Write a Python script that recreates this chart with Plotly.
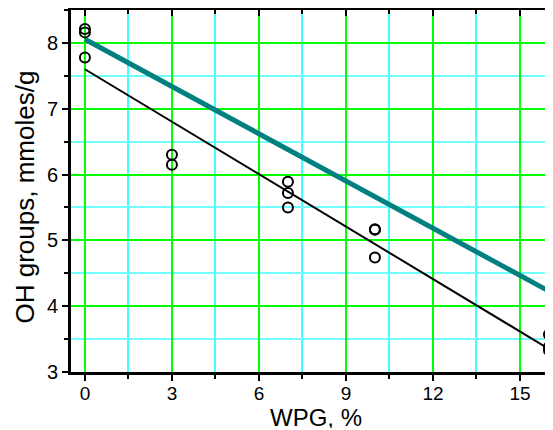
import plotly.graph_objects as go

wpg = [0, 0, 0, 3, 3, 7, 7, 7, 10, 10, 10, 16, 16, 16]
oh = [8.21, 8.16, 7.78, 6.30, 6.15, 5.89, 5.72, 5.50, 5.17, 5.16, 4.74, 3.57, 3.38, 3.33]

fit_x = [0, 16]
fit_y = [7.60, 3.35]

teal_x = [0, 16.14]
teal_y = [8.055, 4.195]

FONT = "Liberation Sans, Arial, sans-serif"
XR = [-0.48, 16.14]
YR = [3, 8.5]

fig = go.Figure()
fig.add_trace(go.Scatter(x=teal_x, y=teal_y, mode="lines",
                         line=dict(color="#008080", width=5), showlegend=False))
fig.add_trace(go.Scatter(x=fit_x, y=fit_y, mode="lines",
                         line=dict(color="black", width=2), showlegend=False))
fig.add_trace(go.Scatter(x=wpg, y=oh, mode="markers", cliponaxis=False,
                         marker=dict(symbol="circle-open", size=10, color="black",
                                     line=dict(width=2, color="black")),
                         showlegend=False))
fig.add_trace(go.Scatter(x=[None], y=[None], xaxis="x2", showlegend=False))

fig.update_layout(
    width=545, height=422,
    margin=dict(l=63, r=0, t=2, b=58, autoexpand=False),
    paper_bgcolor="white", plot_bgcolor="white",
    font=dict(family=FONT, color="black", size=20),
    xaxis=dict(range=XR, tick0=0, dtick=3, showgrid=True, gridcolor="#00FF00", gridwidth=2,
               zeroline=False, showline=True, linecolor="black", linewidth=3,
               ticks="outside", ticklen=6, tickwidth=2, tickcolor="black",
               tickfont=dict(size=19, family=FONT), automargin=False, ticklabelstandoff=-4,
               minor=dict(dtick=1.5, tick0=0, showgrid=True, gridcolor="#40FFFF", gridwidth=1.5,
                          ticks="outside", ticklen=4, tickwidth=2, tickcolor="black")),
    xaxis2=dict(range=XR, overlaying="x", side="top", anchor="y", tick0=0, dtick=3,
                showgrid=False, zeroline=False, showline=True, linecolor="black", linewidth=3,
                ticks="inside", ticklen=6, tickwidth=2, tickcolor="black",
                showticklabels=False, automargin=False,
                minor=dict(dtick=1.5, tick0=0, showgrid=False, ticks="inside", ticklen=4,
                           tickwidth=2, tickcolor="black")),
    yaxis=dict(range=YR, tick0=3, dtick=1, showgrid=True, gridcolor="#00FF00", gridwidth=2,
               zeroline=False, showline=True, linecolor="black", linewidth=3,
               ticks="outside", ticklen=6, tickwidth=2, tickcolor="black",
               tickfont=dict(size=20, family=FONT), automargin=False,
               minor=dict(dtick=0.5, tick0=3, showgrid=True, gridcolor="#70FFFF", gridwidth=1.5,
                          ticks="outside", ticklen=4, tickwidth=2, tickcolor="black")),
    annotations=[
        dict(text="WPG, %", xref="paper", yref="paper", x=0.509, y=0,
             xanchor="center", yanchor="middle", yshift=-45, showarrow=False,
             height=22, valign="middle",
             font=dict(size=24, family=FONT, color="black")),
        dict(text="OH groups, mmoles/g", xref="paper", yref="paper", x=0, y=0.482,
             xanchor="center", yanchor="middle", xshift=-46, textangle=-90, showarrow=False,
             font=dict(size=26, family=FONT, color="black")),
    ],
)

fig.write_html("out.html")
